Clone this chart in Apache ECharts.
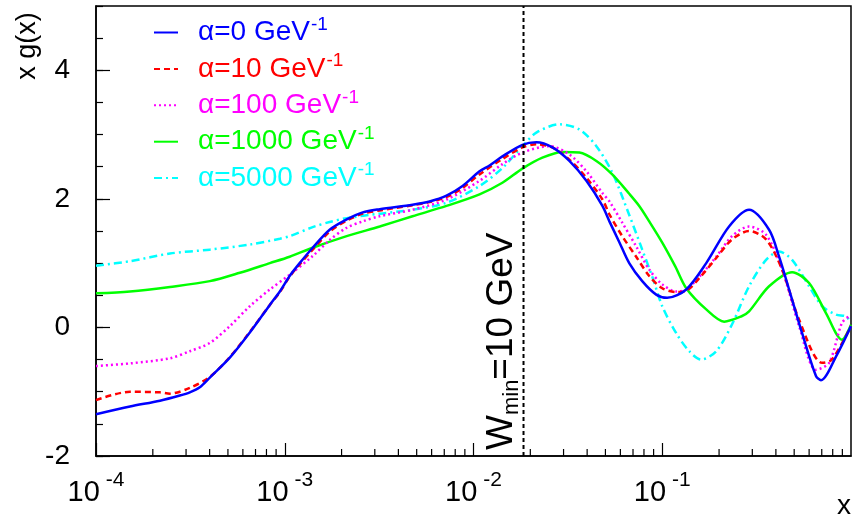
<!DOCTYPE html>
<html>
<head>
<meta charset="utf-8">
<script src="https://cdn.jsdelivr.net/npm/echarts@6/dist/echarts.min.js"></script>
<style>html,body{margin:0;padding:0;background:#fff}#c{width:854px;height:520px}</style>
</head>
<body>
<div id="c"></div>
<script>
// ---- data (x given as log10(x)) ----
const legendNames = ['α=0 GeV', 'α=10 GeV', 'α=100 GeV', 'α=1000 GeV', 'α=5000 GeV'];
const legendExp = '-1';
const xTickExponents = [-4, -3, -2, -1, 0];
const yTickLabels = [-2, 0, 2, 4];
const wMinLogX = -1.735; // W_min = 10 GeV line
const wMinLabel = ['W', 'min', '=10 GeV'];

const alpha0 = [
  [-4.000,-1.35],[-3.820,-1.23],[-3.661,-1.14],[-3.556,-1.06],[-3.503,-1.01],[-3.450,-0.93],[-3.397,-0.78],[-3.291,-0.47],
  [-3.185,-0.08],[-3.079,0.35],[-3.026,0.56],[-2.974,0.80],[-2.921,1.00],[-2.852,1.24],[-2.762,1.52],
  [-2.672,1.68],[-2.587,1.79],[-2.497,1.84],[-2.323,1.91],[-2.233,1.96],[-2.143,2.05],[-2.058,2.20],
  [-1.968,2.43],[-1.915,2.52],[-1.847,2.66],[-1.741,2.84],[-1.667,2.88],[-1.582,2.80],[-1.492,2.59],
  [-1.402,2.28],[-1.317,1.89],[-1.280,1.65],[-1.228,1.33],[-1.175,1.00],[-1.106,0.72],[-1.032,0.51],
  [-0.974,0.46],[-0.873,0.59],[-0.767,1.00],[-0.646,1.57],[-0.540,1.83],[-0.434,1.52],[-0.381,1.10],
  [-0.328,0.59],[-0.259,-0.09],[-0.185,-0.76],[-0.159,-0.82],[-0.079,-0.45],[0.000,0.02]
];
const alpha10 = [
  [-4.000,-1.13],[-3.820,-1.00],[-3.661,-1.01],[-3.608,-1.03],[-3.503,-0.94],[-3.397,-0.77],[-3.291,-0.46],
  [-3.185,-0.07],[-3.079,0.35],[-3.026,0.55],[-2.974,0.79],[-2.921,0.98],[-2.852,1.21],[-2.762,1.49],
  [-2.672,1.66],[-2.587,1.77],[-2.497,1.82],[-2.323,1.90],[-2.233,1.95],[-2.143,2.03],[-2.058,2.17],
  [-1.968,2.38],[-1.847,2.62],[-1.741,2.80],[-1.667,2.85],[-1.582,2.80],[-1.492,2.61],[-1.402,2.33],
  [-1.317,1.99],[-1.280,1.76],[-1.212,1.42],[-1.138,1.10],[-1.069,0.80],[-1.000,0.61],[-0.926,0.55],
  [-0.873,0.57],[-0.794,0.80],[-0.714,1.08],[-0.630,1.37],[-0.540,1.50],[-0.450,1.37],[-0.365,0.90],
  [-0.275,0.12],[-0.153,-0.55],[-0.101,-0.50],[0.000,0.02]
];
const alpha100 = [
  [-4.000,-0.60],[-3.820,-0.56],[-3.608,-0.48],[-3.503,-0.37],[-3.397,-0.24],[-3.291,0.02],[-3.185,0.33],
  [-3.079,0.59],[-2.974,0.82],[-2.852,1.11],[-2.762,1.36],[-2.672,1.55],[-2.587,1.65],[-2.497,1.73],
  [-2.323,1.83],[-2.143,1.99],[-1.968,2.28],[-1.847,2.54],[-1.741,2.72],[-1.598,2.82],[-1.492,2.69],
  [-1.402,2.43],[-1.317,2.09],[-1.280,1.96],[-1.212,1.63],[-1.138,1.26],[-1.069,0.90],[-1.000,0.67],
  [-0.926,0.56],[-0.873,0.59],[-0.794,0.82],[-0.714,1.10],[-0.630,1.42],[-0.540,1.57],[-0.450,1.44],
  [-0.365,0.90],[-0.275,0.02],[-0.185,-0.66],[-0.116,-0.55],[-0.048,0.07],[-0.011,0.17]
];
const alpha1000 = [
  [-4.000,0.53],[-3.820,0.56],[-3.608,0.63],[-3.397,0.72],[-3.238,0.85],[-3.079,1.00],[-2.974,1.10],
  [-2.852,1.24],[-2.672,1.42],[-2.497,1.57],[-2.323,1.73],[-2.143,1.89],[-1.968,2.07],[-1.847,2.25],
  [-1.741,2.47],[-1.635,2.64],[-1.529,2.73],[-1.439,2.72],[-1.349,2.59],[-1.265,2.38],[-1.175,2.08],
  [-1.122,1.89],[-1.069,1.65],[-1.000,1.32],[-0.931,0.95],[-0.873,0.61],[-0.767,0.28],[-0.672,0.09],
  [-0.582,0.17],[-0.540,0.25],[-0.434,0.64],[-0.312,0.86],[-0.222,0.69],[-0.132,0.22],[-0.048,-0.19],
  [0.000,0.04]
];
const alpha5000 = [
  [-4.000,0.96],[-3.820,1.03],[-3.608,1.15],[-3.397,1.21],[-3.185,1.29],[-3.026,1.38],[-2.974,1.42],[-2.852,1.56],
  [-2.762,1.64],[-2.672,1.70],[-2.497,1.77],[-2.323,1.83],[-2.143,1.94],[-1.968,2.20],[-1.847,2.48],[-1.741,2.82],
  [-1.667,3.03],[-1.545,3.16],[-1.439,3.08],[-1.349,2.82],[-1.265,2.41],[-1.175,1.75],[-1.106,1.21],
  [-1.053,0.79],[-1.000,0.33],[-0.926,-0.09],[-0.857,-0.37],[-0.794,-0.50],[-0.714,-0.37],[-0.630,0.05],
  [-0.540,0.64],[-0.450,1.05],[-0.381,1.18],[-0.312,1.05],[-0.222,0.64],[-0.153,0.33],[-0.079,0.20],
  [-0.026,0.17],[0.000,0.07]
];
const curves = [alpha0, alpha10, alpha100, alpha1000, alpha5000];
const colors = ['#0000ff', '#ff0000', '#ff00ff', '#00ff00', '#00ffff'];
const dashes = ['solid', [6, 4], [2, 3], 'solid', [8, 4, 2, 4]];

// ---- build ----
const Y_MIN = -2, Y_MAX = 5;
const toX = p => [Math.pow(10, p[0]), p[1]];
const wMinX = Math.pow(10, wMinLogX);
const minorX = [];
for (let d = -4; d < 0; d++) for (let m = 2; m <= 9; m++) minorX.push([m * Math.pow(10, d), Y_MIN]);

const FONT = 'Liberation Sans, Arial, sans-serif';
const chart = echarts.init(document.getElementById('c'));

const series = curves.map((c, i) => ({
  name: legendNames[i],
  type: 'line',
  data: c.map(toX),
  smooth: 0.3,
  symbol: 'none',
  z: 5 - i,
  lineStyle: { color: colors[i], width: 2.5, type: dashes[i] },
  itemStyle: { color: colors[i] }
}));
// vertical W_min line
series.push({
  type: 'line', silent: true, symbol: 'none', z: 6,
  data: [[wMinX, Y_MIN], [wMinX, Y_MAX]],
  lineStyle: { color: '#000', width: 2, type: [4, 3] }
});
// W_min label
series.push({
  type: 'custom', silent: true, clip: false, z: 7,
  data: [[wMinX, Y_MIN]],
  encode: { x: 0, y: 1 },
  renderItem: (params, api) => {
    const p = api.coord([api.value(0), api.value(1)]);
    return {
      type: 'text', x: p[0] - 22, y: p[1] - 6, rotation: Math.PI / 2,
      style: {
        text: '{w|' + wMinLabel[0] + '}{m|' + wMinLabel[1] + '}{w|' + wMinLabel[2] + '}',
        align: 'left', verticalAlign: 'middle', fill: '#000',
        rich: {
          w: { fontSize: 37, fontFamily: FONT, fill: '#000' },
          m: { fontSize: 22, fontFamily: FONT, fill: '#000', padding: [20, 0, 0, 0] }
        }
      }
    };
  }
});
// log minor ticks on x axis
series.push({
  type: 'custom', silent: true, clip: false, z: 10,
  data: minorX,
  encode: { x: 0, y: 1 },
  renderItem: (params, api) => {
    const p = api.coord([api.value(0), api.value(1)]);
    return { type: 'line', shape: { x1: p[0], y1: p[1], x2: p[0], y2: p[1] - 7 },
      style: { stroke: '#000', lineWidth: 1.2 } };
  }
});

const option = {
  animation: false,
  backgroundColor: '#fff',
  grid: { left: 96, right: 3, top: 6, bottom: 64, show: true, borderColor: '#000', borderWidth: 1.5 },
  legend: {
    orient: 'vertical', left: 148, top: 10, itemWidth: 24, itemHeight: 30, itemGap: 3.9,
    itemStyle: { opacity: 0 },
    data: legendNames.map((n, i) => ({ name: n, textStyle: { color: colors[i] } })),
    formatter: n => '{p|' + n + '}{s|' + legendExp + '}',
    textStyle: {
      fontFamily: FONT, lineHeight: 30,
      rich: {
        p: { fontSize: 28, fontFamily: FONT, lineHeight: 30, padding: [0, 0, 0, 15] },
        s: { fontSize: 19, fontFamily: FONT, padding: [0, 0, 16, 1] }
      }
    }
  },
  xAxis: {
    type: 'log', logBase: 10, min: 1e-4, max: 1,
    axisLine: { onZero: false, lineStyle: { color: '#000', width: 1.5 } },
    axisTick: { inside: true, length: 13, lineStyle: { color: '#000', width: 1.2 } },
    splitLine: { show: false },
    axisLabel: {
      showMaxLabel: false, margin: 6, color: '#000',
      formatter: v => '{b|10}{e|' + Math.round(Math.log10(v)) + '}',
      rich: {
        b: { fontSize: 29, fontFamily: FONT, color: '#000', padding: [16, 0, 0, 0] },
        e: { fontSize: 21, fontFamily: FONT, color: '#000', padding: [0, 0, 8, 6] }
      }
    }
  },
  yAxis: [{
    type: 'value', min: Y_MIN, max: Y_MAX, interval: 2,
    axisLine: { show: true, onZero: false, lineStyle: { color: '#000', width: 1.5 } },
    axisTick: { inside: true, length: 14, lineStyle: { color: '#000', width: 1.2 } },
    splitLine: { show: false },
    axisLabel: { showMaxLabel: false, margin: 26, fontSize: 28, fontFamily: FONT, color: '#000',
      formatter: v => yTickLabels.includes(v) ? String(v) : '' }
  }, {
    type: 'value', min: Y_MIN, max: Y_MAX, interval: 0.5, position: 'left', offset: 0,
    axisLine: { show: false },
    axisTick: { inside: true, length: 7, lineStyle: { color: '#000', width: 1.2 } },
    splitLine: { show: false },
    axisLabel: { show: false }
  }],
  graphic: [
    { type: 'text', x: 28, y: 46, rotation: Math.PI / 2,
      style: { text: 'x g(x)', fontSize: 27, fontFamily: FONT, fill: '#000', align: 'center', verticalAlign: 'middle' } },
    { type: 'text', x: 851, y: 506,
      style: { text: 'x', fontSize: 28, fontFamily: FONT, fill: '#000', align: 'right', verticalAlign: 'middle' } }
  ],
  series: series
};
chart.setOption(option);
</script>
</body>
</html>
